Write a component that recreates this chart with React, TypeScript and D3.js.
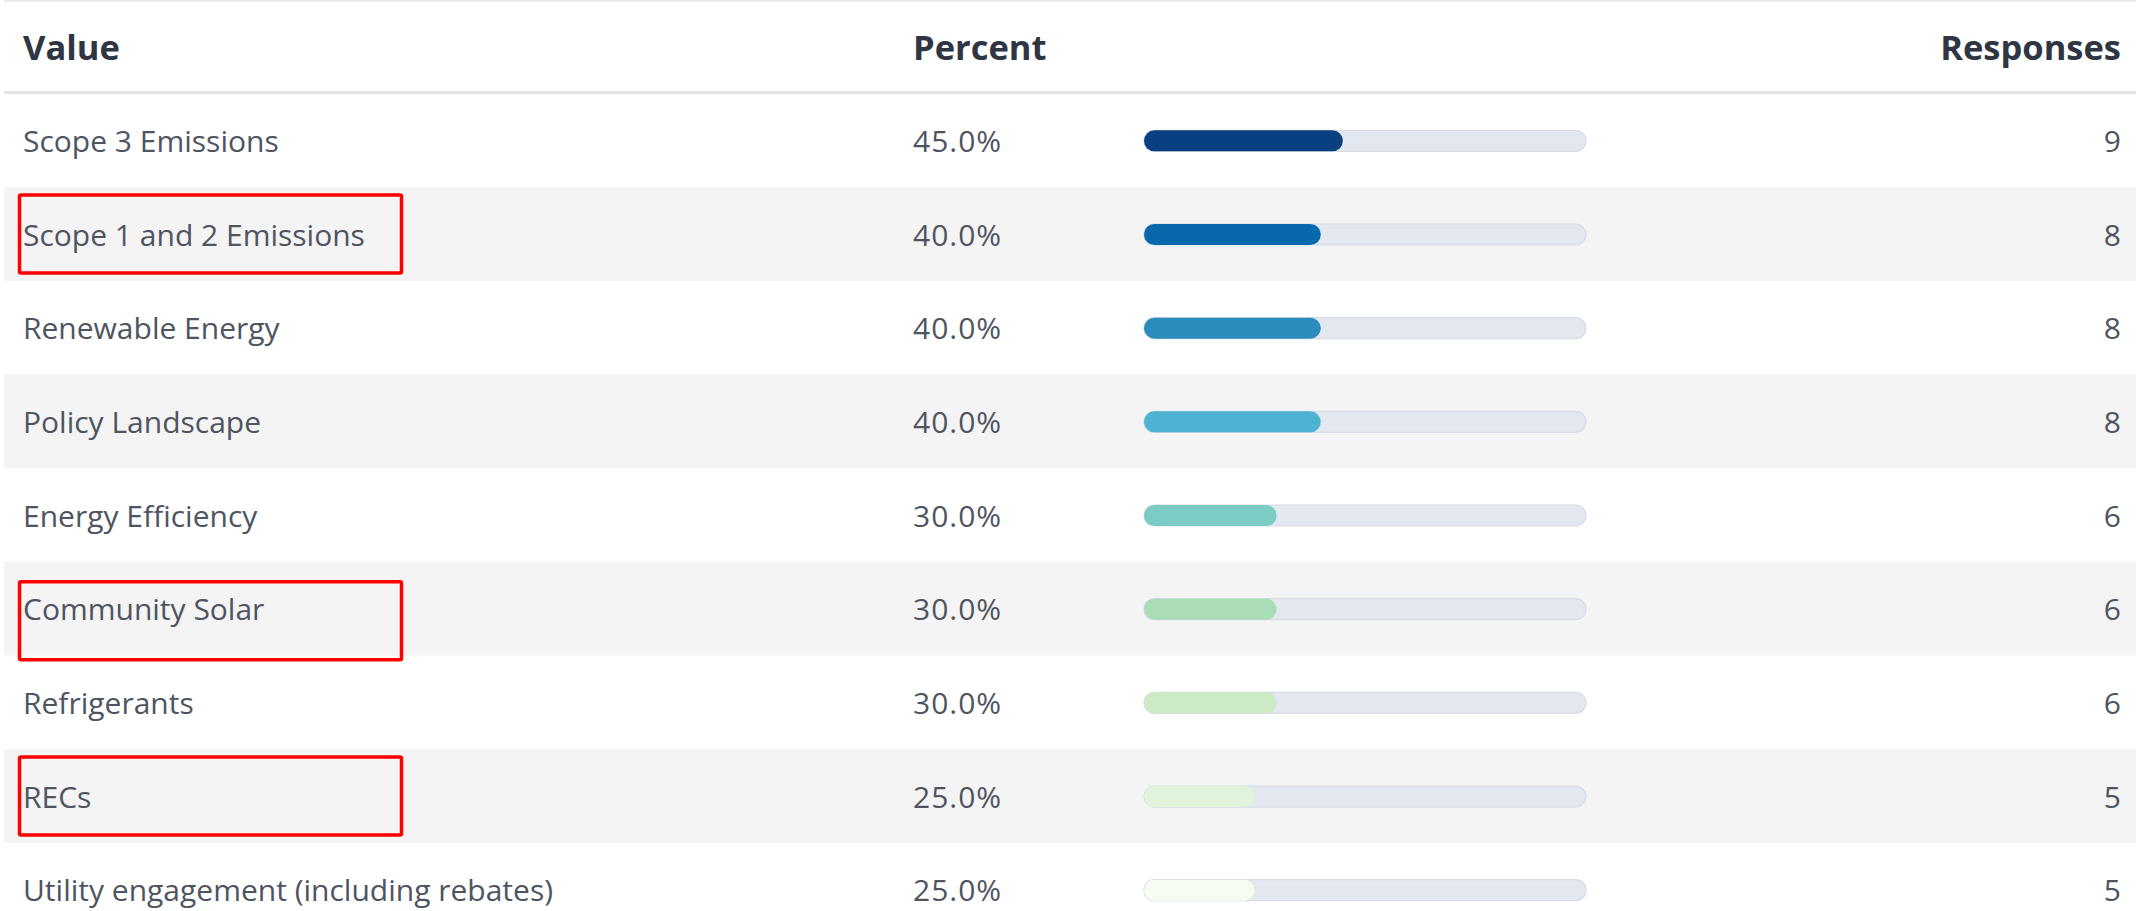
import React from "react";
import * as d3 from "d3";

const categories = [
  "Scope 3 Emissions",
  "Scope 1 and 2 Emissions",
  "Renewable Energy",
  "Policy Landscape",
  "Energy Efficiency",
  "Community Solar",
  "Refrigerants",
  "RECs",
  "Utility engagement (including rebates)",
];
const percents = [45, 40, 40, 40, 30, 30, 30, 25, 25];
const responses = [9, 8, 8, 8, 6, 6, 6, 5, 5];
const headers = ["Value", "Percent", "Responses"];
const highlighted = ["Scope 1 and 2 Emissions", "Community Solar", "RECs"];

const W = 2136;
const H = 911;
const FONT = "'Open Sans', 'Noto Sans', sans-serif";
const BOX_SHIFT: Record<string, number> = { "Community Solar": 12 };

export default function App() {
  const rowTop = 93.5;
  const rowH = 93.67;
  const y = d3
    .scaleBand<string>()
    .domain(categories)
    .range([rowTop, rowTop + rowH * categories.length])
    .padding(0);
  const x = d3.scaleLinear().domain([0, 100]).range([1144, 1586]);
  const colors = (d3.schemeGnBu[9] as readonly string[]).slice().reverse();

  const colLabelX = 23;
  const colPctX = 913;
  const colRespX = 2121;
  const barH = 21;
  const bodySize = 30;

  return (
    <svg
      width={W}
      height={H}
      style={{ position: "absolute", left: 0, top: 0, background: "#fff" }}
      fontFamily={FONT}
    >
      <rect x={0} y={0} width={W} height={H} fill="#ffffff" />
      {/* top border */}
      <rect x={4} y={0} width={W - 4} height={2} fill="#e9e9e9" />
      {/* header */}
      <g fontWeight={700} fontSize={34.5} fill="#2f3542">
        <text x={colLabelX} y={46} dominantBaseline="central">{headers[0]}</text>
        <text x={colPctX} y={46} dominantBaseline="central">{headers[1]}</text>
        <text x={colRespX} y={46} dominantBaseline="central" textAnchor="end">{headers[2]}</text>
      </g>
      {/* rows */}
      {categories.map((c, i) => {
        const y0 = y(c) as number;
        const bw = y.bandwidth();
        const cy = y0 + bw / 2;
        return (
          <g key={c}>
            {i % 2 === 1 && (
              <rect x={4} y={y0} width={W - 4} height={bw} fill="#f4f4f4" />
            )}
            <text x={colLabelX} y={cy} dominantBaseline="central" fontSize={bodySize} fill="#4f5461">
              {c}
            </text>
            <text x={colPctX} y={cy} dominantBaseline="central" fontSize={bodySize} fill="#4f5461" letterSpacing={1}>
              {d3.format(".1f")(percents[i]) + "%"}
            </text>
            <rect
              x={x(0)}
              y={cy - barH / 2 + 0.5}
              width={x(100) - x(0)}
              height={barH}
              rx={barH / 2}
              fill="#e3e7ef"
              stroke="#d6dbe4"
              strokeWidth={1.2}
            />
            <rect
              x={x(0)}
              y={cy - barH / 2 + 0.5}
              width={x(percents[i]) - x(0)}
              height={barH}
              rx={barH / 2}
              fill={colors[i]}
            />
            <text x={colRespX} y={cy} dominantBaseline="central" textAnchor="end" fontSize={bodySize} fill="#4f5461">
              {responses[i]}
            </text>
          </g>
        );
      })}
      {/* header separator */}
      <rect x={4} y={91} width={W - 4} height={3} fill="#e4e4e4" />
      {/* highlight boxes */}
      {highlighted.map((c) => {
        const y0 = y(c) as number;
        const bw = y.bandwidth();
        const bh = 78;
        const cy = y0 + bw / 2 + (BOX_SHIFT[c] || 0);
        return (
          <rect
            key={"box-" + c}
            x={19.5}
            y={cy - bh / 2}
            width={382}
            height={bh}
            fill="none"
            stroke="#ff0000"
            strokeWidth={3.5}
            rx={1.5}
          />
        );
      })}
    </svg>
  );
}
